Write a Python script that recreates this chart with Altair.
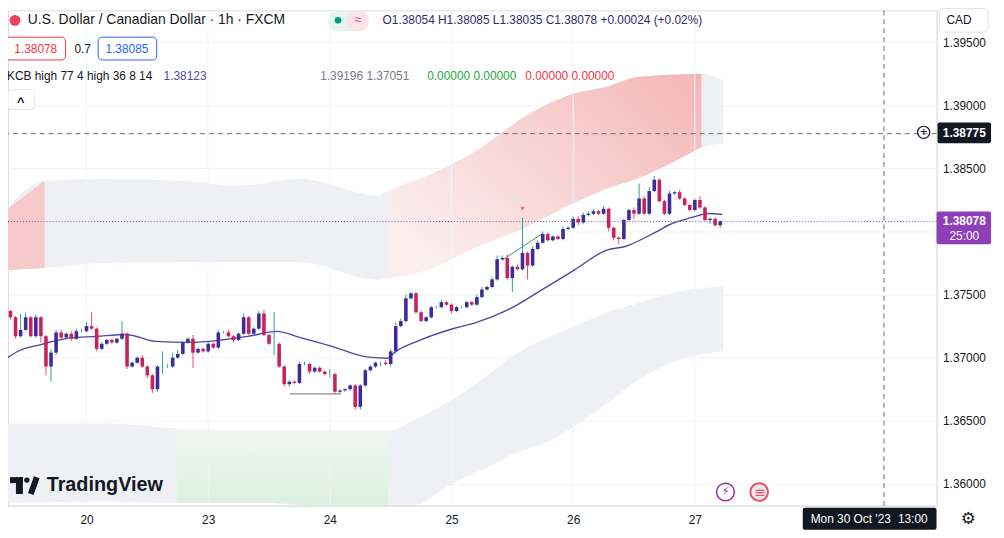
import pandas as pd
import altair as alt

# ---------------------------------------------------------------- data
# hourly closes (bar index 0 = Oct 19 ~08:00)
closes = [
    1.3737, 1.3732, 1.3717, 1.3722, 1.3732, 1.3717, 1.3732, 1.3717, 1.3693, 1.3704,
    1.3720, 1.3716, 1.3719, 1.3715, 1.3721, 1.3721, 1.3725, 1.3723, 1.3707, 1.3711,
    1.3714, 1.3712, 1.3715, 1.3719, 1.3693, 1.3696, 1.3700, 1.3693, 1.3686, 1.3675,
    1.3693, 1.3693, 1.3693, 1.3700, 1.3703, 1.3712, 1.3715, 1.3704, 1.3707, 1.3705,
    1.3711, 1.3708, 1.3720, 1.3720, 1.3717, 1.3714, 1.3719, 1.3732, 1.3719, 1.3723,
    1.3735, 1.3718, 1.3711, 1.3711, 1.3693, 1.3679, 1.3681, 1.3680, 1.3695, 1.3695,
    1.3689, 1.3692, 1.3689, 1.3687, 1.3687, 1.3673, 1.3674, 1.3675, 1.3678, 1.3661,
    1.3678, 1.3690, 1.3693, 1.3696,
    1.3696, 1.3695, 1.3705, 1.3725, 1.3729, 1.3747, 1.3751, 1.3736, 1.3729, 1.3732,
    1.3740, 1.3740, 1.3744, 1.3742, 1.3737, 1.3740, 1.3740, 1.3744, 1.3742, 1.3748,
    1.3754, 1.3756, 1.3762, 1.3778, 1.3779, 1.3763, 1.3772, 1.3770, 1.3783, 1.3773,
    1.3786, 1.3791, 1.3798, 1.3793, 1.3796, 1.3794, 1.3802, 1.3803, 1.3810, 1.3807,
    1.3813, 1.3814, 1.3816, 1.3814, 1.3818, 1.3803, 1.3795, 1.3794, 1.3809, 1.3817,
    1.3814, 1.3826, 1.3814, 1.3832, 1.3841, 1.3824, 1.3814, 1.3830, 1.3831, 1.3826,
    1.3821, 1.3817, 1.3825, 1.3819, 1.3809, 1.3810, 1.3805, 1.3808,
]
first_open = 1.3733
# upper / lower wick lengths in pips
wick_up = [
    3, 1, 1, 13, 4, 1, 2, 1, 1, 3, 2, 2, 1, 2, 2, 2, 3, 11, 1, 1,
    1, 1, 1, 10, 1, 1, 1, 2, 1, 1, 1, 12, 2, 4, 3, 1, 1, 3, 1, 1,
    2, 1, 2, 1, 2, 1, 1, 3, 1, 1, 2, 3, 1, 25, 1, 1, 1, 1, 2, 2,
    1, 1, 1, 1, 4, 1, 1, 1, 1, 1, 1, 1, 1, 1,
    1, 2, 2, 3, 2, 3, 1, 1, 1, 1, 1, 1, 2, 1, 1, 1, 1, 1, 1, 2,
    2, 1, 2, 3, 2, 3, 1, 2, 28, 1, 2, 2, 2, 1, 1, 1, 2, 1, 2, 2,
    2, 2, 2, 1, 2, 1, 1, 1, 1, 1, 2, 12, 2, 3, 3, 1, 1, 2, 1, 2,
    1, 1, 1, 3, 1, 1, 1, 1,
]
wick_dn = [
    2, 2, 2, 1, 1, 1, 1, 5, 7, 12, 2, 2, 1, 2, 1, 1, 1, 1, 2, 1,
    1, 1, 1, 1, 2, 1, 1, 1, 2, 3, 2, 6, 1, 1, 1, 1, 1, 12, 1, 1,
    1, 1, 1, 1, 1, 2, 1, 1, 1, 1, 1, 1, 1, 9, 1, 2, 2, 1, 1, 1,
    2, 1, 1, 1, 3, 2, 1, 1, 1, 2, 2, 1, 1, 1,
    3, 1, 2, 2, 1, 1, 1, 1, 1, 1, 1, 1, 1, 1, 2, 1, 1, 1, 1, 1,
    1, 1, 1, 1, 1, 1, 11, 1, 1, 11, 1, 1, 1, 1, 1, 1, 1, 1, 1, 2,
    1, 1, 1, 1, 1, 3, 2, 4, 1, 1, 4, 1, 1, 1, 1, 1, 1, 1, 1, 1,
    1, 1, 1, 1, 1, 3, 1, 2,
]

# moving average line (sparse points)
ma_idx = [0, 2.5, 7.2, 12.2, 18.0, 23.8, 29.6, 36.2, 42.0, 47.8, 53.6, 58.0, 64.4, 71.6, 75.4,
          76.8, 81.2, 88.4, 92.8, 99.2, 105.8, 112.2, 118.6, 122.4, 128.2, 131.5, 135.4, 138.7, 141.4]
ma_val = [1.36988, 1.37051, 1.37106, 1.37153, 1.37169, 1.37184, 1.37129, 1.37121, 1.37137, 1.37169,
          1.37208, 1.37161, 1.37090, 1.37004, 1.36996, 1.37043, 1.37129, 1.37231, 1.37278, 1.37381,
          1.37537, 1.37694, 1.37852, 1.37883, 1.37993, 1.38063, 1.38111, 1.38142, 1.38134]

# upper band
up_idx = [0, 7.7, 19.3, 34.8, 46.4, 58, 73.5, 75.4, 83.2, 92.8, 102.5, 112.2, 118.6, 125.1, 137.3, 141.6]
up_top = [1.38166, 1.38401, 1.38417, 1.38401, 1.38362, 1.38417, 1.38283, 1.38323, 1.38440, 1.38637,
          1.38911, 1.39092, 1.39147, 1.39225, 1.39249, 1.39196]
up_bot = [1.37694, 1.37710, 1.37750, 1.37757, 1.37757, 1.37757, 1.37616, 1.37632, 1.37694, 1.37875,
          1.38032, 1.38228, 1.38338, 1.38425, 1.38668, 1.38699]
# lower band
lo_idx = [0, 19.3, 33.8, 50.3, 75.4, 81.2, 88.4, 96.7, 99.2, 108.3, 112.2, 118.6, 125.1, 131.5, 141.6]
lo_top = [1.36478, 1.36478, 1.36439, 1.36423, 1.36423, 1.36517, 1.36674, 1.36910, 1.36988, 1.37184,
          1.37247, 1.37357, 1.37435, 1.37514, 1.37561]
lo_bot = [1.35850, 1.35860, 1.35850, 1.35850, 1.35732, 1.35826, 1.36007, 1.36164, 1.36219, 1.36360,
          1.36454, 1.36635, 1.36831, 1.36964, 1.37051]

day_ticks = [16, 40, 64, 88, 112, 136]
day_labels = ['20', '23', '24', '25', '26', '27']
price_ticks = [1.36, 1.365, 1.37, 1.375, 1.38, 1.385, 1.39, 1.395]
last_price = 1.38078
cross_price = 1.38775
cross_idx = 173.3

# ---------------------------------------------------------------- frames
opens = [first_open] + closes[:-1]
df = pd.DataFrame({'i': range(len(closes)), 'open': opens, 'close': closes})
df['high'] = df[['open', 'close']].max(axis=1) + pd.Series(wick_up) * 0.0001
df['low'] = df[['open', 'close']].min(axis=1) - pd.Series(wick_dn) * 0.0001
df['up'] = df['close'] >= df['open']

df_ma = pd.DataFrame({'i': ma_idx, 'v': ma_val})
df_up = pd.DataFrame({'i': up_idx, 'top': up_top, 'bot': up_bot})
df_lo = pd.DataFrame({'i': lo_idx, 'top': lo_top, 'bot': lo_bot})

W, H = 937, 500
xs = alt.Scale(domain=[1.49, 182.7], nice=False, zero=False)
ys = alt.Scale(domain=[1.35826, 1.39751], nice=False, zero=False)
FONT = 'Liberation Sans'

label_expr = '{' + ','.join(f'"{t}":"{l}"' for t, l in zip(day_ticks, day_labels)) + '}[datum.value]'

x_axis = alt.Axis(values=day_ticks, labelExpr=label_expr, title=None, ticks=False,
                  domain=False, grid=False, labelFontSize=12,
                  labelColor='#131722', labelFont=FONT, labelPadding=9)
y_axis = alt.Axis(orient='right', values=price_ticks, title=None, ticks=False,
                  labelExpr="abs(datum.value - 1.38) < 0.0001 ? '' : format(datum.value, '.5f')",
                  domainColor='#e0e3eb', gridColor='#f0f3fa', labelFontSize=12,
                  labelColor='#131722', labelFont=FONT, labelPadding=6)


def X(f='i'):
    return alt.X(f, type='quantitative', scale=xs, axis=x_axis)


def Y(f):
    return alt.Y(f, type='quantitative', scale=ys, axis=y_axis)


def band(data, color):
    return alt.Chart(data).mark_area(color=color, clip=True, interpolate='monotone').encode(
        x=X(), y=Y('top'), y2='bot')


gray_up = band(df_up, '#eef0f3')
red_left = band(df_up[df_up.i <= 7.7], '#f6caca')
red_right = alt.Chart(df_up[(df_up.i >= 75.4) & (df_up.i <= 137.3)]).mark_area(
    clip=True, interpolate='monotone',
    color=alt.Gradient(gradient='linear', x1=0, y1=0.7, x2=1, y2=0,
                       stops=[alt.GradientStop(color='#fbeeee', offset=0),
                              alt.GradientStop(color='#f4b6b6', offset=1)])
).encode(x=X(), y=Y('top'), y2='bot')
gray_lo = band(df_lo, '#eef0f3')
green_lo = alt.Chart(df_lo[(df_lo.i >= 33.8) & (df_lo.i <= 75.4)]).mark_area(
    clip=True, interpolate='monotone',
    color=alt.Gradient(gradient='linear', x1=0, y1=0, x2=0, y2=1,
                       stops=[alt.GradientStop(color='#f0f7f1', offset=0),
                              alt.GradientStop(color='#d8efdb', offset=1)])
).encode(x=X(), y=Y('top'), y2='bot')

day_grid = alt.Chart(pd.DataFrame({'i': day_ticks})).mark_rule(
    color='#f0f3fa').encode(x=X())
bottom_line = alt.Chart(pd.DataFrame({'v': [1.35826]})).mark_rule(
    color='#e0e3eb').encode(y=Y('v'))

ma = alt.Chart(df_ma).mark_line(color='#4f47a0', strokeWidth=1.4, interpolate='monotone',
                                clip=True).encode(x=X(), y=Y('v'))

wicks = alt.Chart(df).mark_rule(strokeWidth=1, clip=True).encode(
    x=X(), y=Y('low'), y2='high',
    color=alt.condition('datum.up', alt.value('#2aa198'), alt.value('#e2536f')))
bodies = alt.Chart(df).mark_bar(size=3.6, clip=True).encode(
    x=X(), y=Y('open'), y2='close',
    color=alt.condition('datum.up', alt.value('#3f2a9c'), alt.value('#c8215c')))

hline = alt.Chart(pd.DataFrame({'i': [56.1, 66.2], 'v': [1.36713, 1.36713]})).mark_line(
    color='#6e6e6e', strokeWidth=1).encode(x=X(), y=Y('v'))
diag = alt.Chart(pd.DataFrame({'i': [98, 106], 'v': [1.37773, 1.37985]})).mark_line(
    color='#5a8a6a', strokeWidth=1).encode(x=X(), y=Y('v'))
marker = alt.Chart(pd.DataFrame({'i': [102], 'v': [1.3818]})).mark_point(
    shape='triangle-down', filled=True, color='#f23645', size=22).encode(x=X(), y=Y('v'))

last_line = alt.Chart(pd.DataFrame({'v': [last_price]})).mark_rule(
    color='#8e3fb8', strokeDash=[1, 2], strokeWidth=1).encode(y=Y('v'))
cross_h = alt.Chart(pd.DataFrame({'v': [cross_price]})).mark_rule(
    color='#6a6d78', strokeDash=[5, 4], strokeWidth=1).encode(y=Y('v'))
cross_v = alt.Chart(pd.DataFrame({'i': [cross_idx]})).mark_rule(
    color='#6a6d78', strokeDash=[5, 4], strokeWidth=1).encode(x=X())

one = pd.DataFrame({'a': [0]})


def txt(s, x, y, color='#131722', size=12, align='left', weight='normal', font=FONT):
    return alt.Chart(one).mark_text(text=s, align=align, baseline='middle', fontSize=size,
                                    color=color, fontWeight=weight, font=font).encode(
        x=alt.value(x - 8), y=alt.value(y - 8))


def box(x1, y1, x2, y2, fill='white', stroke=None, r=3):
    kw = dict(fill=fill, cornerRadius=r)
    if stroke:
        kw['stroke'] = stroke
        kw['strokeWidth'] = 1
    return alt.Chart(one).mark_rect(**kw).encode(
        x=alt.value(x1 - 8), x2=alt.value(x2 - 8), y=alt.value(y1 - 8), y2=alt.value(y2 - 8))


def dot(x, y, size, fill=None, stroke=None, sw=1.5):
    kw = dict(shape='circle', size=size, opacity=1)
    if fill:
        kw['filled'] = True
        kw['color'] = fill
    else:
        kw['filled'] = False
        kw['color'] = stroke
        kw['strokeWidth'] = sw
    return alt.Chart(one).mark_point(**kw).encode(x=alt.value(x - 8), y=alt.value(y - 8))


def stroke(x1, y1, x2, y2, color='#131722', w=1):
    return alt.Chart(one).mark_rule(color=color, strokeWidth=w).encode(
        x=alt.value(x1 - 8), y=alt.value(y1 - 8), x2=alt.value(x2 - 8), y2=alt.value(y2 - 8))


ui = [
    dot(15, 18, 120, fill='#e8435a'),
    txt('U.S. Dollar / Canadian Dollar · 1h · FXCM', 28, 18, size=14),
    box(331, 8, 372, 29, fill='#e6f4f1', r=10),
    box(350, 8, 372, 29, fill='#fbe3ea', r=10),
    dot(341, 18, 45, fill='#089981'),
    txt('≈', 361, 18, color='#e2536f', size=13, align='center'),
    txt('O1.38054 H1.38085 L1.38035 C1.38078 +0.00024 (+0.02%)', 386, 18, color='#2f2b6b', size=12),
    box(6, 35, 66, 58, stroke='#f23645', r=4),
    txt('1.38078', 36, 47, color='#f23645', align='center'),
    txt('0.7', 75, 47),
    box(99, 35, 158, 58, stroke='#2962ff', r=4),
    txt('1.38085', 128, 47, color='#2962ff', align='center'),
    txt('KCB high 77 4 high 36 8 14', 7, 74),
    txt('1.38123', 165, 74, color='#4f47a0'),
    txt('1.39196 1.37051', 323, 74, color='#787b86'),
    txt('0.00000 0.00000', 431, 74, color='#22ab3c'),
    txt('0.00000 0.00000', 530, 74, color='#f23645'),
    box(8, 88, 35, 108, stroke='#e0e3eb', r=4),
    txt('^', 21, 100, size=13, align='center', weight='bold'),
    box(948, 6, 997, 30, stroke='#e0e3eb', r=4),
    txt('CAD', 955, 18),
    dot(932, 131, 150, stroke='#131722', sw=1.2),
    txt('+', 932, 131, size=13, align='center'),
    box(946, 121, 1000, 142, fill='#131722', r=2),
    txt('1.38775', 973, 132, color='white', align='center', weight='bold'),
    box(945, 211, 1000, 244, fill='#8e3fb8', r=2),
    txt('1.38078', 973, 221, color='white', align='center', weight='bold'),
    txt('25:00', 973, 236, color='white', align='center'),
    box(810, 510, 945, 532, fill='#131722', r=2),
    txt("Mon 30 Oct '23", 818, 521, color='white'),
    txt('13:00', 906, 521, color='white'),
    txt('⚙', 977, 521, size=17, align='center', font='DejaVu Sans'),
    # TradingView logo
    box(10, 479, 23, 485, fill='#131722', r=0),
    box(16, 479, 23, 496, fill='#131722', r=0),
    dot(27, 482, 30, fill='#131722'),
    stroke(37, 479, 31, 496, w=6),
    txt('TradingView', 47, 487, size=20, weight='bold'),
    dot(732, 494, 320, stroke='#9c27b0', sw=1.5),
    txt('⚡', 732, 494, color='#9c27b0', size=11, align='center', font='DejaVu Sans'),
    dot(766, 494, 320, fill='#f0e6ea'),
    dot(766, 494, 320, stroke='#e2536f', sw=2),
    txt('≡', 767, 495, color='#e2536f', size=14, align='center', font='DejaVu Sans'),
]

chart = alt.layer(
    gray_up, red_left, red_right, gray_lo, green_lo, day_grid, bottom_line, ma, hline, diag,
    wicks, bodies, marker, last_line, cross_h, cross_v, *ui
).properties(
    width=W, height=H,
    autosize=alt.AutoSizeParams(type='none'),
    padding={'left': 0, 'top': 0, 'right': 60, 'bottom': 32},
).configure_view(stroke=None).configure(background='white')

chart.save('out.html', embed_options={'renderer': 'svg', 'actions': False})
